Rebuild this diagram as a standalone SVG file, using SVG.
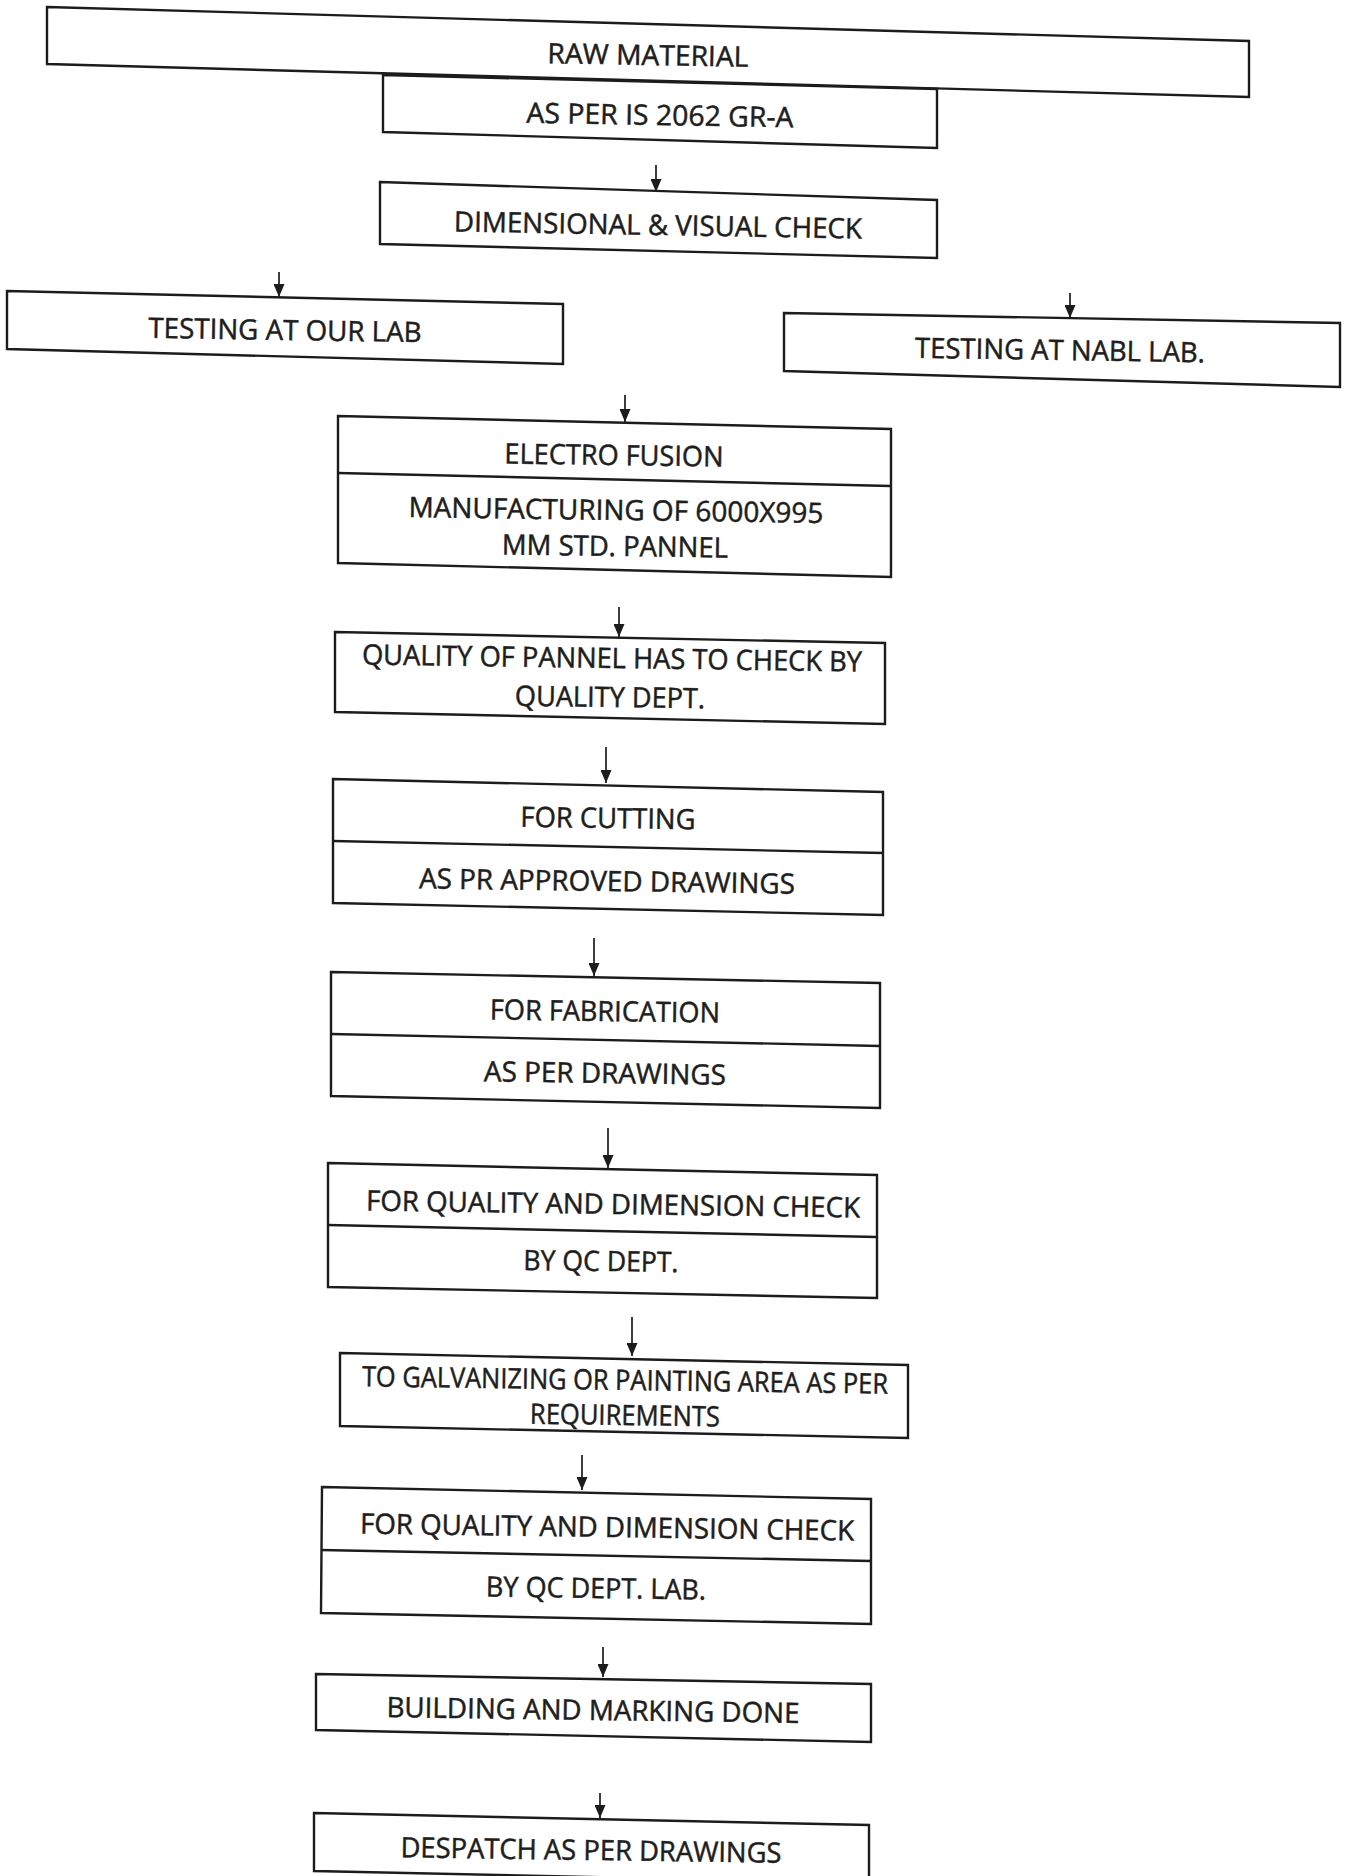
<svg xmlns="http://www.w3.org/2000/svg" width="1350" height="1876" viewBox="0 0 1350 1876">
<defs>
<style>
.box{fill:#fff;stroke:#1c1c1c;stroke-width:2.4;stroke-linejoin:miter}
.div{stroke:#1c1c1c;stroke-width:2.4;fill:none}
.t{font-family:"Open Sans","Liberation Sans",sans-serif;font-size:28px;fill:#1e1e1e;stroke:#1e1e1e;stroke-width:0.5;text-anchor:middle}
.arr{stroke:#1c1c1c;stroke-width:1.7;fill:none}
</style>
<marker id="ah" viewBox="0 0 13 11" refX="13" refY="5.5" markerWidth="13" markerHeight="11" markerUnits="userSpaceOnUse" orient="auto">
<path d="M0,0 L13,5.5 L0,11 Z" fill="#1c1c1c"/>
</marker>
</defs>
<rect width="1350" height="1876" fill="#fff"/>
<g id="connectors">
<line class="arr" x1="656" y1="165" x2="656" y2="192" marker-end="url(#ah)"/>
<line class="arr" x1="279" y1="272" x2="279" y2="297" marker-end="url(#ah)"/>
<line class="arr" x1="1070" y1="293" x2="1070" y2="318" marker-end="url(#ah)"/>
<line class="arr" x1="625" y1="395" x2="625" y2="422" marker-end="url(#ah)"/>
<line class="arr" x1="619" y1="607" x2="619" y2="637" marker-end="url(#ah)"/>
<line class="arr" x1="606" y1="747" x2="606" y2="783" marker-end="url(#ah)"/>
<line class="arr" x1="594" y1="938" x2="594" y2="976" marker-end="url(#ah)"/>
<line class="arr" x1="608" y1="1128" x2="608" y2="1168" marker-end="url(#ah)"/>
<line class="arr" x1="632" y1="1317" x2="632" y2="1356" marker-end="url(#ah)"/>
<line class="arr" x1="582" y1="1455" x2="582" y2="1490" marker-end="url(#ah)"/>
<line class="arr" x1="603" y1="1647" x2="603" y2="1677" marker-end="url(#ah)"/>
<line class="arr" x1="600" y1="1793" x2="600" y2="1818" marker-end="url(#ah)"/>
</g>
<g id="n-raw">
<polygon class="box" points="47,7 1249,41 1249,97 47,64"/>
<text class="t" x="648" y="65" textLength="201" lengthAdjust="spacingAndGlyphs" transform="rotate(1.0 648 55)">RAW MATERIAL</text>
</g>
<g id="n-asper">
<polygon class="box" points="383,75 937,89 937,148 383,132"/>
<text class="t" x="660" y="125" textLength="267" lengthAdjust="spacingAndGlyphs" transform="rotate(1.0 660 115)">AS PER IS 2062 GR-A</text>
</g>
<g id="n-dim">
<polygon class="box" points="380,182 937,200 937,258 380,244"/>
<text class="t" x="658" y="235" textLength="408" lengthAdjust="spacingAndGlyphs" transform="rotate(1.0 658 225)">DIMENSIONAL &amp; VISUAL CHECK</text>
</g>
<g id="n-ourlab">
<polygon class="box" points="7,291 563,304 563,364 7,349"/>
<text class="t" x="285" y="340" textLength="273" lengthAdjust="spacingAndGlyphs" transform="rotate(0.9 285 330)">TESTING AT OUR LAB</text>
</g>
<g id="n-nabl">
<polygon class="box" points="784,313 1340,323 1340,387 784,371"/>
<text class="t" x="1060" y="360" textLength="290" lengthAdjust="spacingAndGlyphs" transform="rotate(0.9 1060 350)">TESTING AT NABL LAB.</text>
</g>
<g id="n-electro">
<polygon class="box" points="338,416 891,429 891,577 338,563"/>
<line class="div" x1="338" y1="473" x2="891" y2="486"/>
<text class="t" x="614" y="465" textLength="219" lengthAdjust="spacingAndGlyphs" transform="rotate(0.8 614 455)">ELECTRO FUSION</text>
<text class="t" x="616" y="520" textLength="415" lengthAdjust="spacingAndGlyphs" transform="rotate(0.8 616 510)">MANUFACTURING OF 6000X995</text>
<text class="t" x="615" y="556" textLength="226" lengthAdjust="spacingAndGlyphs" transform="rotate(0.8 615 546)">MM STD. PANNEL</text>
</g>
<g id="n-quality">
<polygon class="box" points="335,632 885,643 885,724 335,712"/>
<text class="t" x="612" y="668" textLength="500" lengthAdjust="spacingAndGlyphs" transform="rotate(0.8 612 658)">QUALITY OF PANNEL HAS TO CHECK BY</text>
<text class="t" x="610" y="707" textLength="190" lengthAdjust="spacingAndGlyphs" transform="rotate(0.8 610 697)">QUALITY DEPT.</text>
</g>
<g id="n-cutting">
<polygon class="box" points="333,779 883,792 883,915 333,903"/>
<line class="div" x1="333" y1="841" x2="883" y2="853"/>
<text class="t" x="608" y="828" textLength="175" lengthAdjust="spacingAndGlyphs" transform="rotate(0.8 608 818)">FOR CUTTING</text>
<text class="t" x="607" y="891" textLength="376" lengthAdjust="spacingAndGlyphs" transform="rotate(0.8 607 881)">AS PR APPROVED DRAWINGS</text>
</g>
<g id="n-fab">
<polygon class="box" points="331,972 880,983 880,1108 331,1096"/>
<line class="div" x1="331" y1="1034" x2="880" y2="1046"/>
<text class="t" x="605" y="1021" textLength="230" lengthAdjust="spacingAndGlyphs" transform="rotate(0.8 605 1011)">FOR FABRICATION</text>
<text class="t" x="605" y="1083" textLength="242" lengthAdjust="spacingAndGlyphs" transform="rotate(0.8 605 1073)">AS PER DRAWINGS</text>
</g>
<g id="n-qc">
<polygon class="box" points="328,1163 877,1175 877,1298 328,1287"/>
<line class="div" x1="328" y1="1225" x2="877" y2="1237"/>
<text class="t" x="613" y="1214" textLength="494" lengthAdjust="spacingAndGlyphs" transform="rotate(0.8 613 1204)">FOR QUALITY AND DIMENSION CHECK</text>
<text class="t" x="601" y="1271" textLength="155" lengthAdjust="spacingAndGlyphs" transform="rotate(0.8 601 1261)">BY QC DEPT.</text>
</g>
<g id="n-galv">
<polygon class="box" points="340,1353 908,1365 908,1438 340,1426"/>
<text class="t" x="625" y="1390" textLength="526" lengthAdjust="spacingAndGlyphs" transform="rotate(0.8 625 1380)">TO GALVANIZING OR PAINTING AREA AS PER</text>
<text class="t" x="625" y="1425" textLength="190" lengthAdjust="spacingAndGlyphs" transform="rotate(0.8 625 1415)">REQUIREMENTS</text>
</g>
<g id="n-qclab">
<polygon class="box" points="322,1487 871,1499 871,1624 321,1613"/>
<line class="div" x1="321" y1="1550" x2="871" y2="1561"/>
<text class="t" x="607" y="1537" textLength="494" lengthAdjust="spacingAndGlyphs" transform="rotate(0.8 607 1527)">FOR QUALITY AND DIMENSION CHECK</text>
<text class="t" x="596" y="1598" textLength="220" lengthAdjust="spacingAndGlyphs" transform="rotate(0.8 596 1588)">BY QC DEPT. LAB.</text>
</g>
<g id="n-building">
<polygon class="box" points="316,1674 871,1684 871,1742 316,1730"/>
<text class="t" x="593" y="1720" textLength="413" lengthAdjust="spacingAndGlyphs" transform="rotate(0.8 593 1710)">BUILDING AND MARKING DONE</text>
</g>
<g id="n-despatch">
<polygon class="box" points="314,1813 869,1825 869,1883 314,1871"/>
<text class="t" x="591" y="1860" textLength="381" lengthAdjust="spacingAndGlyphs" transform="rotate(0.8 591 1850)">DESPATCH AS PER DRAWINGS</text>
</g>
</svg>
